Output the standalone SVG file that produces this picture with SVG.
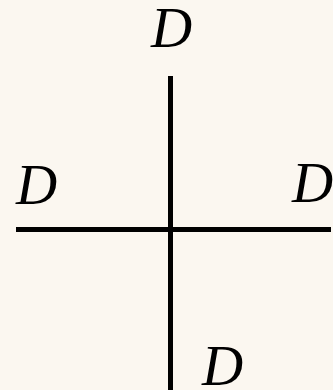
<svg xmlns="http://www.w3.org/2000/svg" width="333" height="390" viewBox="0 0 333 390">
<style>
.lbl{font-family:"Liberation Serif","DejaVu Serif",serif;font-style:italic;font-size:57px;fill:#000}
.ln{stroke:#000;stroke-width:5;fill:none}
</style>
<rect width="333" height="390" fill="#fbf7f0"/>
<g id="connectors">
<line class="ln" x1="170.5" y1="76" x2="170.5" y2="390"/>
<line class="ln" x1="16" y1="229.5" x2="331" y2="229.5"/>
</g>
<g id="top"><text class="lbl" x="151" y="47">D</text></g>
<g id="left"><text class="lbl" x="16" y="204">D</text></g>
<g id="right"><text class="lbl" x="292" y="202">D</text></g>
<g id="bottom"><text class="lbl" x="202" y="385">D</text></g>
</svg>
